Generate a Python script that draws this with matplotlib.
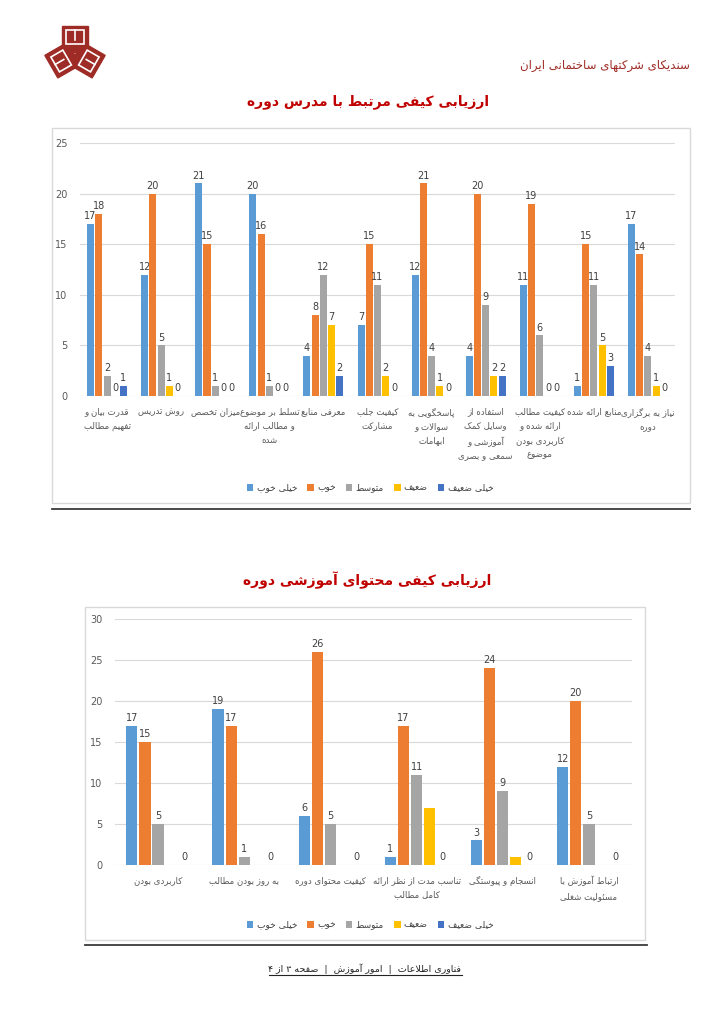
import numpy as np
import matplotlib
matplotlib.use('Agg')
import matplotlib.pyplot as plt
from matplotlib.patches import Rectangle, Polygon

plt.rcParams['font.family'] = ['DejaVu Sans']

# ---- data ----
levels = ['خیلی خوب', 'خوب', 'متوسط', 'ضعیف', 'خیلی ضعیف']
colors = ['#5B9BD5', '#ED7D31', '#A5A5A5', '#FFC000', '#4472C4']

teacher_cats = ['قدرت بیان و\nتفهیم مطالب', 'روش تدریس', 'میزان تخصص',
                'تسلط بر موضوع\nو مطالب ارائه\nشده', 'معرفی منابع',
                'کیفیت جلب\nمشارکت', 'پاسخگویی به\nسوالات و\nابهامات',
                'استفاده از\nوسایل کمک\nآموزشی و\nسمعی و بصری',
                'کیفیت مطالب\nارائه شده و\nکاربردی بودن\nموضوع',
                'منابع ارائه شده', 'نیاز به برگزاری\nدوره']
teacher_very_good = [17, 12, 21, 20, 4, 7, 12, 4, 11, 1, 17]
teacher_good = [18, 20, 15, 16, 8, 15, 21, 20, 19, 15, 14]
teacher_average = [2, 5, 1, 1, 12, 11, 4, 9, 6, 11, 4]
teacher_weak = [0, 1, 0, 0, 7, 2, 1, 2, 0, 5, 1]
teacher_very_weak = [1, 0, 0, 0, 2, 0, 0, 2, 0, 3, 0]

content_cats = ['کاربردی بودن', 'به روز بودن مطالب', 'کیفیت محتوای دوره',
                'تناسب مدت از نظر ارائه\nکامل مطالب', 'انسجام و پیوستگی',
                'ارتباط آموزش با\nمسئولیت شغلی']
content_very_good = [17, 19, 6, 1, 3, 12]
content_good = [15, 17, 26, 17, 24, 20]
content_average = [5, 1, 5, 11, 9, 5]
content_weak = [0, 0, 0, 7, 1, 0]
content_very_weak = [0, 0, 0, 0, 0, 0]

title1 = 'ارزیابی کیفی مرتبط با مدرس دوره'
title2 = 'ارزیابی کیفی محتوای آموزشی دوره'
org_name = 'سندیکای شرکتهای ساختمانی ایران'
footer = 'فناوری اطلاعات  |  امور آموزش  |  صفحه ۳ از ۴'

# ---- minimal persian shaping (no reshaper lib available) ----
FORMS = {}
def _add(ch, start, dual):
    if dual:
        FORMS[ch] = tuple(chr(start + i) for i in range(4))
    else:
        FORMS[ch] = (chr(start), chr(start + 1), None, None)

FORMS['ء'] = ('\uFE80', None, None, None)
for ch, st in [('آ', 0xFE81), ('أ', 0xFE83), ('ؤ', 0xFE85), ('إ', 0xFE87),
               ('ا', 0xFE8D), ('ة', 0xFE93), ('د', 0xFEA9), ('ذ', 0xFEAB),
               ('ر', 0xFEAD), ('ز', 0xFEAF), ('و', 0xFEED), ('ى', 0xFEEF),
               ('ژ', 0xFB8A)]:
    _add(ch, st, False)
for ch, st in [('ئ', 0xFE89), ('ب', 0xFE8F), ('ت', 0xFE95), ('ث', 0xFE99),
               ('ج', 0xFE9D), ('ح', 0xFEA1), ('خ', 0xFEA5), ('س', 0xFEB1),
               ('ش', 0xFEB5), ('ص', 0xFEB9), ('ض', 0xFEBD), ('ط', 0xFEC1),
               ('ظ', 0xFEC5), ('ع', 0xFEC9), ('غ', 0xFECD), ('ف', 0xFED1),
               ('ق', 0xFED5), ('ك', 0xFED9), ('ل', 0xFEDD), ('م', 0xFEE1),
               ('ن', 0xFEE5), ('ه', 0xFEE9), ('ي', 0xFEF1), ('پ', 0xFB56),
               ('چ', 0xFB7A), ('ک', 0xFB8E), ('گ', 0xFB92)]:
    _add(ch, st, True)
FORMS['ی'] = ('\uFEEF', '\uFEF0', '\uFEF3', '\uFEF4')
LAMALEF = {'آ': ('\uFEF5', '\uFEF6'), 'أ': ('\uFEF7', '\uFEF8'),
           'إ': ('\uFEF9', '\uFEFA'), 'ا': ('\uFEFB', '\uFEFC')}


def joins_next(c):
    return c in FORMS and FORMS[c][2] is not None


def takes_prev(c):
    return c in FORMS and FORMS[c][1] is not None


def shape_line(s):
    out = []
    i = 0
    while i < len(s):
        c = s[i]
        if c not in FORMS:
            if c != '\u200c':
                out.append(c)
            i += 1
            continue
        prev = s[i - 1] if i > 0 else ''
        link_prev = joins_next(prev) and takes_prev(c)
        if c == 'ل' and i + 1 < len(s) and s[i + 1] in LAMALEF:
            iso, fin = LAMALEF[s[i + 1]]
            out.append(fin if link_prev else iso)
            i += 2
            continue
        nxt = s[i + 1] if i + 1 < len(s) else ''
        link_next = joins_next(c) and takes_prev(nxt)
        f = FORMS[c]
        if link_prev and link_next:
            out.append(f[3])
        elif link_prev:
            out.append(f[1])
        elif link_next:
            out.append(f[2])
        else:
            out.append(f[0])
        i += 1
    return ''.join(out)[::-1]


def fa(text):
    return '\n'.join(shape_line(l) for l in text.split('\n'))


# ---- figure ----
W, H = 724, 1024
fig = plt.figure(figsize=(W / 100, H / 100), dpi=100)
fig.patch.set_facecolor('white')

bg = fig.add_axes([0, 0, 1, 1], zorder=-1)
bg.set_xlim(0, W)
bg.set_ylim(H, 0)
bg.axis('off')

dark_red = '#9E2B25'
title_red = '#C00000'

# logo
def draw_logo(ax, cx, cy, s):
    for ang in [90, 210, 330]:
        a = np.deg2rad(ang)
        ox, oy = cx + 0.55 * s * np.cos(a), cy - 0.55 * s * np.sin(a)
        rot = np.deg2rad(ang - 90)
        R = np.array([[np.cos(rot), np.sin(rot)], [-np.sin(rot), np.cos(rot)]])
        def tr(pts):
            p = np.array(pts) @ R.T
            return p + [ox, oy]
        sq = [(-0.5 * s, -0.5 * s), (0.5 * s, -0.5 * s), (0.5 * s, 0.5 * s), (-0.5 * s, 0.5 * s)]
        ax.add_patch(Polygon(tr(sq), closed=True, color=dark_red, zorder=2))
        inner = [(-0.33 * s, -0.33 * s), (0.33 * s, -0.33 * s), (0.33 * s, 0.2 * s), (-0.33 * s, 0.2 * s)]
        ax.add_patch(Polygon(tr(inner), closed=True, fill=False, ec='white', lw=1.2, zorder=3))
        mid = tr([(0, -0.33 * s), (0, 0.05 * s)])
        ax.plot(mid[:, 0], mid[:, 1], color='white', lw=1.2, zorder=3)

draw_logo(bg, 75, 53, 26)

bg.text(690, 66, fa(org_name), ha='right', va='center', fontsize=8.5,
        color=dark_red)

# boxes and rules
bg.add_patch(Rectangle((52, 128), 638, 375, fill=False, ec='#D9D9D9', lw=1))
bg.plot([52, 690], [509, 509], color='#3A3A3A', lw=1.3)
bg.add_patch(Rectangle((85, 607), 560, 333, fill=False, ec='#D9D9D9', lw=1))
bg.plot([85, 647], [945, 945], color='#3A3A3A', lw=1.3)

bg.text(368, 102, fa(title1), ha='center', va='center', fontsize=10,
        fontweight='bold', color=title_red)
bg.text(367, 580, fa(title2), ha='center', va='center', fontsize=10,
        fontweight='bold', color=title_red)

ft = bg.text(365, 969, fa(footer), ha='center', va='center', fontsize=6.8, color='#222222')

WIDTH = 0.13
PITCH = 0.152


def draw_chart(rect, cats, series, ymax, show_labels, legend_y):
    ax = fig.add_axes(rect)
    ax.set_facecolor('none')
    x = np.arange(len(cats))
    for k, vals in enumerate(series):
        bars = ax.bar(x + (k - 2) * PITCH, vals, width=WIDTH, color=colors[k],
                      label=fa(levels[k]), zorder=3)
        if show_labels[k]:
            ax.bar_label(bars, labels=[str(v) for v in vals], padding=2,
                         fontsize=7, color='#404040')
    ax.set_xlim(-0.5, len(cats) - 0.5)
    ax.set_ylim(0, ymax)
    ax.set_yticks(np.arange(0, ymax + 1, 5))
    ax.set_xticks(x)
    ax.set_xticklabels([fa(c) for c in cats], fontsize=6.2, color='#404040',
                       linespacing=1.75, va='top')
    ax.tick_params(axis='both', length=0, labelcolor='#595959')
    ax.tick_params(axis='y', labelsize=7, pad=9)
    ax.tick_params(axis='x', pad=8)
    for sp in ax.spines.values():
        sp.set_visible(False)
    ax.yaxis.grid(True, color='#D9D9D9', lw=0.8, zorder=0)
    ax.set_axisbelow(True)
    fig.legend(*ax.get_legend_handles_labels(), loc='center',
               bbox_to_anchor=(0.511, legend_y), ncol=5, frameon=False,
               fontsize=6.5, handlelength=0.75, handleheight=0.75,
               handletextpad=0.35, columnspacing=1.1, labelcolor='#404040')
    return ax


draw_chart([80 / W, 1 - 396 / H, 595 / W, 253 / H], teacher_cats,
           [teacher_very_good, teacher_good, teacher_average, teacher_weak, teacher_very_weak],
           25, [True] * 5, 1 - 488 / H)
draw_chart([115 / W, 1 - 865 / H, 517 / W, 246 / H], content_cats,
           [content_very_good, content_good, content_average, content_weak, content_very_weak],
           30, [True, True, True, False, True], 1 - 925 / H)

# underline footer
fig.canvas.draw()
bb = ft.get_window_extent().transformed(bg.transData.inverted())
bg.plot([bb.x0, bb.x1], [bb.y0 + 1, bb.y0 + 1], color='#222222', lw=0.8)

fig.savefig('out.png', dpi=100, facecolor='white')
